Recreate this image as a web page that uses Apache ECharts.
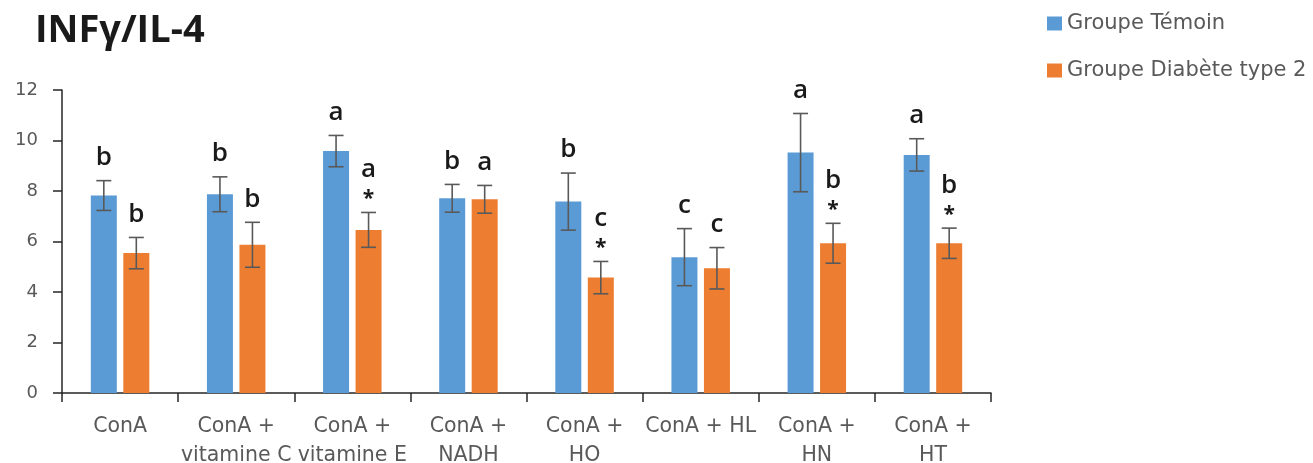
<!DOCTYPE html>
<html>
<head>
<meta charset="utf-8">
<script src="https://cdn.jsdelivr.net/npm/echarts@6/dist/echarts.min.js"></script>
<style>
  html, body { margin: 0; padding: 0; background: #fff; }
  #chart { width: 1313px; height: 463px; }
</style>
</head>
<body>
<div id="chart"></div>
<script>
// Stimulation conditions on the x axis
const categories = ['ConA', 'ConA +\nvitamine C', 'ConA +\nvitamine E', 'ConA +\nNADH', 'ConA +\nHO', 'ConA + HL', 'ConA +\nHN', 'ConA +\nHT'];

// INFγ/IL-4 ratio, mean and error per group
const temoinValues  = [7.82, 7.87, 9.58, 7.71, 7.58, 5.38, 9.52, 9.43];
const temoinErrors  = [0.59, 0.69, 0.62, 0.55, 1.13, 1.13, 1.55, 0.64];
const diabeteValues = [5.54, 5.87, 6.46, 7.67, 4.57, 4.94, 5.93, 5.93];
const diabeteErrors = [0.62, 0.89, 0.69, 0.55, 0.64, 0.82, 0.79, 0.60];

// Significance letters and asterisks drawn above each bar
const temoinLetters  = ['b', 'b', 'a', 'b', 'b', 'c', 'a', 'a'];
const diabeteLetters = ['b', 'b', 'a', 'a', 'c', 'c', 'b', 'b'];
const temoinStars    = [false, false, false, false, false, false, false, false];
const diabeteStars   = [false, false, true, false, true, false, true, true];

// Value axis ticks
const yMin = 0, yMax = 12, yStep = 2;

const BLUE = '#5B9BD5';
const ORANGE = '#ED7D31';
const TEXT_GRAY = '#595959';
const ERR_COLOR = '#595959';
const BAR_WIDTH = 26;
const BAR_GAP_RATIO = 0.25;
const CAP_HALF = 7.5;

function errorSeries(name, values, errors, letters, stars, side) {
  return {
    type: 'custom',
    name: name,
    silent: true,
    z: 5,
    clip: false,
    encode: { x: 0, y: 1 },
    data: values.map((v, i) => [i, v, errors[i]]),
    renderItem(params, api) {
      const i = api.value(0);
      const v = api.value(1);
      const e = api.value(2);
      const offset = side * (BAR_WIDTH + BAR_WIDTH * BAR_GAP_RATIO) / 2;
      const x = api.coord([i, 0])[0] + offset;
      const yTop = api.coord([i, v + e])[1];
      const yBot = api.coord([i, v - e])[1];
      const lineStyle = { stroke: ERR_COLOR, lineWidth: 1.6 };
      const children = [
        { type: 'line', shape: { x1: x, y1: yTop, x2: x, y2: yBot }, style: lineStyle },
        { type: 'line', shape: { x1: x - CAP_HALF, y1: yTop, x2: x + CAP_HALF, y2: yTop }, style: lineStyle },
        { type: 'line', shape: { x1: x - CAP_HALF, y1: yBot, x2: x + CAP_HALF, y2: yBot }, style: lineStyle }
      ];
      let letterBottom = yTop - 10;
      if (stars[i]) {
        children.push({
          type: 'text',
          style: {
            text: '*', x: x, y: yTop - 3,
            align: 'center', verticalAlign: 'bottom',
            fontSize: 21, fontFamily: 'Open Sans', fontWeight: 'bold', fill: '#1a1a1a'
          }
        });
        letterBottom = yTop - 30;
      }
      children.push({
        type: 'text',
        style: {
          text: letters[i], x: x, y: letterBottom,
          align: 'center', verticalAlign: 'bottom',
          fontSize: 26, fontFamily: 'Open Sans', fontWeight: 600, fill: '#1a1a1a'
        }
      });
      return { type: 'group', children: children };
    }
  };
}

const chart = echarts.init(document.getElementById('chart'), null, { renderer: 'canvas' });

chart.setOption({
  animation: false,
  backgroundColor: '#fff',
  title: {
    text: 'INFγ/IL-4',
    left: 30,
    top: 7,
    textStyle: { fontFamily: 'Open Sans', fontWeight: 'bold', fontSize: 38, color: '#1a1a1a' }
  },
  legend: {
    orient: 'vertical',
    left: 1042,
    top: 8,
    itemWidth: 15,
    itemHeight: 14,
    itemGap: 26,
    icon: 'rect',
    data: ['Groupe Témoin', 'Groupe Diabète type 2'],
    textStyle: { fontFamily: 'DejaVu Sans', fontSize: 21, color: TEXT_GRAY }
  },
  grid: { left: 62, right: 322, top: 90, bottom: 70, outerBoundsMode: 'none', containLabel: false },
  xAxis: {
    type: 'category',
    data: categories,
    axisLine: { lineStyle: { color: '#262626', width: 1.5 } },
    axisTick: { show: true, length: 9, lineStyle: { color: '#262626', width: 1.5 } },
    axisLabel: {
      interval: 0,
      margin: 19,
      fontFamily: 'DejaVu Sans',
      fontSize: 20.5,
      lineHeight: 29,
      color: TEXT_GRAY
    },
    splitLine: { show: false }
  },
  yAxis: {
    type: 'value',
    min: yMin,
    max: yMax,
    interval: yStep,
    axisLine: { show: true, lineStyle: { color: '#262626', width: 1.5 } },
    axisTick: { show: true, length: 9, lineStyle: { color: '#262626', width: 1.5 } },
    axisLabel: { margin: 24, fontFamily: 'DejaVu Sans', fontSize: 18, color: TEXT_GRAY },
    splitLine: { show: false }
  },
  series: [
    {
      name: 'Groupe Témoin',
      type: 'bar',
      data: temoinValues,
      barWidth: BAR_WIDTH,
      barGap: (BAR_GAP_RATIO * 100) + '%',
      itemStyle: { color: BLUE }
    },
    {
      name: 'Groupe Diabète type 2',
      type: 'bar',
      data: diabeteValues,
      barWidth: BAR_WIDTH,
      barGap: (BAR_GAP_RATIO * 100) + '%',
      itemStyle: { color: ORANGE }
    },
    errorSeries('Témoin erreur', temoinValues, temoinErrors, temoinLetters, temoinStars, -1),
    errorSeries('Diabète erreur', diabeteValues, diabeteErrors, diabeteLetters, diabeteStars, 1)
  ]
});
</script>
</body>
</html>
